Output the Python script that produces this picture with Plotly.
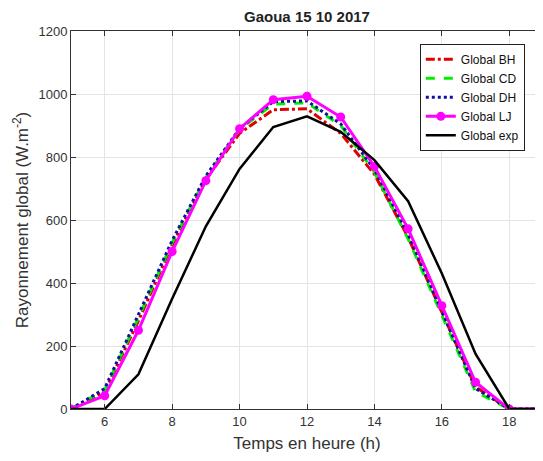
import plotly.graph_objects as go

hours = [5, 6, 7, 8, 9, 10, 11, 12, 13, 14, 15, 16, 17, 18, 19]
global_bh = [0, 55, 280, 520, 730, 875, 950, 953, 875, 745, 545, 310, 70, 0, 0]
global_cd = [0, 60, 290, 528, 735, 888, 968, 972, 900, 752, 540, 300, 55, 0, 0]
global_dh = [0, 65, 300, 535, 740, 890, 976, 978, 905, 760, 555, 310, 65, 0, 0]
global_lj = [0, 42, 250, 500, 725, 890, 982, 993, 927, 770, 572, 328, 85, 0, 0]
global_exp = [0, 0, 110, 350, 580, 762, 895, 929, 880, 790, 660, 430, 175, 0, 0]

x_ticks = [6, 8, 10, 12, 14, 16, 18]
y_ticks = [0, 200, 400, 600, 800, 1000, 1200]

FONT = "Liberation Sans, Arial, Helvetica"

fig = go.Figure()
fig.add_trace(go.Scatter(x=hours, y=global_bh, mode="lines", name="Global BH",
                         line=dict(color="#e00000", width=3, dash="dashdot")))
fig.add_trace(go.Scatter(x=hours, y=global_cd, mode="lines", name="Global CD",
                         line=dict(color="#00ee00", width=3, dash="dash")))
fig.add_trace(go.Scatter(x=hours, y=global_dh, mode="lines", name="Global DH",
                         line=dict(color="#1010a0", width=3, dash="dot")))
fig.add_trace(go.Scatter(x=hours, y=global_lj, mode="lines+markers", name="Global LJ",
                         line=dict(color="#ff00ff", width=3),
                         marker=dict(color="#ff00ff", size=9, symbol="circle")))
fig.add_trace(go.Scatter(x=hours, y=global_exp, mode="lines", name="Global exp",
                         line=dict(color="black", width=2.5)))

axis_common = dict(
    showgrid=True, gridcolor="#e4e4e4", gridwidth=1,
    showline=True, linecolor="#333333", linewidth=1, mirror="ticks",
    ticks="inside", ticklen=5, tickcolor="#333333",
    zeroline=False, automargin=False,
    tickfont=dict(family=FONT, size=13, color="#333333"),
)

# the page body adds an 8 px margin; the figure is sized so it fills the window
fig.update_layout(
    width=535, height=453,
    margin=dict(l=63, r=0, t=23, b=52),
    paper_bgcolor="white", plot_bgcolor="white",
    title=dict(text="<b>Gaoua 15 10 2017</b>", x=0.5, xref="paper", xanchor="center",
               y=1 - 9 / 453, yref="container", yanchor="middle",
               font=dict(family=FONT, size=15, color="#222222")),
    xaxis=dict(range=[5, 19], tickvals=x_ticks,
               title=dict(text="Temps en heure (h)", standoff=9,
                          font=dict(family=FONT, size=17, color="#333333")),
               **axis_common),
    yaxis=dict(range=[0, 1200], tickvals=y_ticks,
               title=dict(text="Rayonnement global (W.m<sup>-2</sup>)", standoff=5,
                          font=dict(family=FONT, size=17, color="#333333")),
               **axis_common),
    legend=dict(x=0.739, y=0.966, xanchor="left", yanchor="top",
                bgcolor="white", bordercolor="#222222", borderwidth=1,
                font=dict(family=FONT, size=12, color="#111111"),
                tracegroupgap=0, itemwidth=30),
    showlegend=True,
)

fig.write_html("out.html")
